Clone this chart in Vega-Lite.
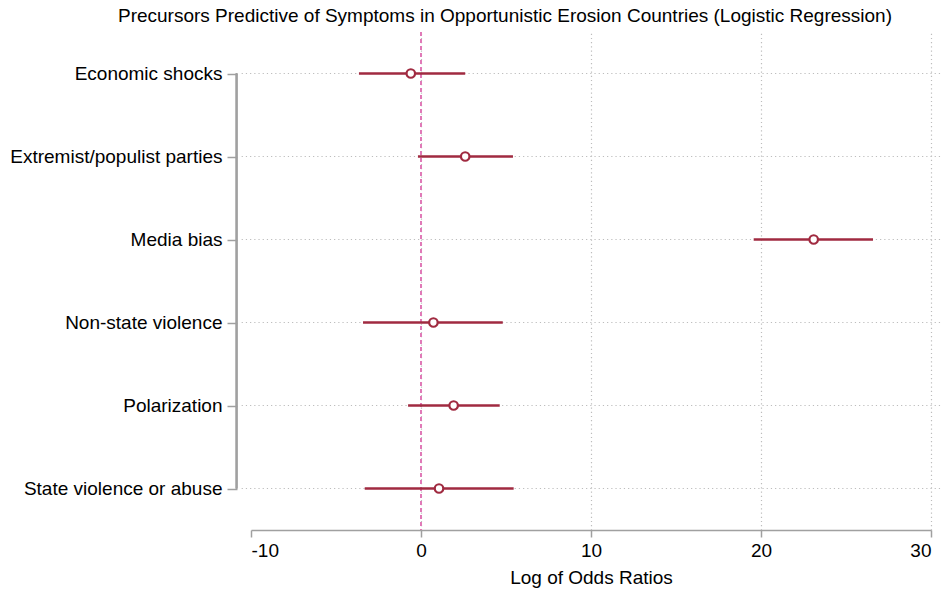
{
  "$schema": "https://vega.github.io/schema/vega-lite/v6.json",
  "width": 680,
  "height": 498,
  "autosize": {"type": "none"},
  "padding": {"left": 251, "top": 32, "right": 12, "bottom": 61},
  "background": "white",
  "title": {
    "text": "Precursors Predictive of Symptoms in Opportunistic Erosion Countries (Logistic Regression)",
    "fontSize": 19,
    "fontWeight": "normal",
    "color": "#000000",
    "anchor": "middle",
    "offset": 5,
    "dx": -86
  },
  "config": {
    "font": "Liberation Sans",
    "view": {"stroke": null}
  },
  "data": {
    "values": [
      {"precursor": "Economic shocks", "estimate": -0.6, "lower": -3.65, "upper": 2.6},
      {"precursor": "Extremist/populist parties", "estimate": 2.6, "lower": -0.18, "upper": 5.41},
      {"precursor": "Media bias", "estimate": 23.1, "lower": 19.57, "upper": 26.59},
      {"precursor": "Non-state violence", "estimate": 0.73, "lower": -3.41, "upper": 4.81},
      {"precursor": "Polarization", "estimate": 1.92, "lower": -0.76, "upper": 4.63},
      {"precursor": "State violence or abuse", "estimate": 1.06, "lower": -3.31, "upper": 5.45}
    ]
  },
  "layer": [
    {
      "mark": {"type": "rule", "color": "#bdbdbd", "strokeWidth": 1.2, "strokeDash": [1.2, 3]},
      "encoding": {
        "y": {
          "field": "precursor",
          "type": "nominal",
          "sort": null,
          "scale": {"type": "point", "padding": 0.5},
          "axis": {
            "title": null,
            "domain": false,
            "grid": false,
            "offset": 14,
            "tickSize": 10,
            "tickColor": "#a0a0a0",
            "tickWidth": 1.5,
            "labelFontSize": 19,
            "labelColor": "#000000",
            "labelPadding": 5,
            "labelLimit": 400
          }
        },
        "x": {
          "datum": -10.55,
          "type": "quantitative",
          "scale": {"domain": [-10, 30], "nice": false, "zero": false},
          "axis": {
            "values": [-10, 0, 10, 20, 30],
            "labelExpr": "'' + datum.value",
            "title": "Log of Odds Ratios",
            "titleFontSize": 19,
            "titleFontWeight": "normal",
            "titleColor": "#000000",
            "titlePadding": 8,
            "domain": true,
            "domainColor": "#a0a0a0",
            "domainWidth": 1.5,
            "tickSize": 7,
            "tickColor": "#a0a0a0",
            "tickWidth": 1.5,
            "labelFontSize": 19,
            "labelColor": "#000000",
            "labelPadding": 4,
            "grid": true,
            "gridDash": [1.2, 3],
            "gridWidth": 1.2,
            "gridColor": {
              "condition": {"test": "datum.value === -10", "value": "transparent"},
              "value": "#bdbdbd"
            }
          }
        },
        "x2": {"datum": 30.6}
      }
    },
    {
      "mark": {"type": "rule", "color": "#a0a0a0", "strokeWidth": 1.5},
      "encoding": {
        "x": {"datum": -10.85, "type": "quantitative"},
        "y": {"datum": "Economic shocks", "type": "nominal"},
        "y2": {"datum": "State violence or abuse"}
      }
    },
    {
      "mark": {"type": "rule", "color": "#e07ab8", "strokeWidth": 1.8, "strokeDash": [4, 3]},
      "encoding": {
        "x": {"datum": 0, "type": "quantitative"}
      }
    },
    {
      "mark": {"type": "rule", "color": "#a02a40", "strokeWidth": 2.5},
      "encoding": {
        "y": {"field": "precursor", "type": "nominal", "sort": null},
        "x": {"field": "lower", "type": "quantitative"},
        "x2": {"field": "upper"}
      }
    },
    {
      "mark": {"type": "point", "shape": "circle", "filled": true, "fill": "white", "stroke": "#a02a40", "strokeWidth": 2.2, "size": 72, "opacity": 1},
      "encoding": {
        "y": {"field": "precursor", "type": "nominal", "sort": null},
        "x": {"field": "estimate", "type": "quantitative"}
      }
    }
  ]
}
